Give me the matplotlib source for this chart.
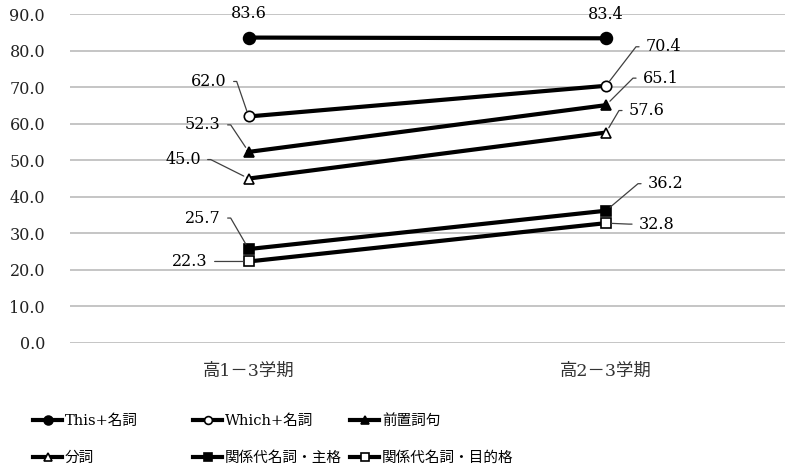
import matplotlib.pyplot as plt

plt.rcParams['font.family'] = ['DejaVu Serif', 'Noto Sans CJK JP']

terms = ["高1－3学期", "高2－3学期"]
names = ["This+名詞", "Which+名詞", "前置詞句", "分詞", "関係代名詞・主格", "関係代名詞・目的格"]
this_noun = [83.6, 83.4]
which_noun = [62.0, 70.4]
prep_phrase = [52.3, 65.1]
participle = [45.0, 57.6]
rel_subj = [25.7, 36.2]
rel_obj = [22.3, 32.8]
series = [this_noun, which_noun, prep_phrase, participle, rel_subj, rel_obj]

# marker, face colour
styles = [("o", "black"), ("o", "white"), ("^", "black"),
          ("^", "white"), ("s", "black"), ("s", "white")]

# label offsets in pixels for (first point, second point); None = centred above
offsets = [
    [None, None],
    [(-22, 35), (40, 39)],
    [(-28, 27), (37, 27)],
    [(-48, 19), (23, 22)],
    [(-28, 31), (42, 27)],
    [(-41, 0), (33, -1)],
]

fig = plt.figure(figsize=(7.87, 4.73), dpi=100)
ax = fig.add_axes([0.089, 0.275, 0.908, 0.695])

x = list(range(len(terms)))
handles = []
for vals, (mk, fc), name in zip(series, styles, names):
    ms = 8.5 if (mk == "o" and fc == "black") else 7.5
    ln, = ax.plot(x, vals, color="black", lw=3, marker=mk, ms=ms,
                  mfc=fc, mec="black", mew=1.2, zorder=3, label=name)
    handles.append(ln)

for vals, offs in zip(series, offsets):
    for xi, v, off in zip(x, vals, offs):
        if off is None:
            ax.annotate(f"{v:.1f}", (xi, v), xytext=(0, 24), textcoords="offset pixels",
                        ha="center", va="center", fontsize=11.5, annotation_clip=False)
            continue
        left = off[0] < 0
        ax.annotate(f"{v:.1f}", (xi, v), xytext=off, textcoords="offset pixels",
                    ha="right" if left else "left", va="center", fontsize=11.5,
                    annotation_clip=False,
                    arrowprops=dict(arrowstyle="-", color="#404040", lw=0.9,
                                    patchA=None, shrinkA=5, shrinkB=4,
                                    relpos=(1, 0.5) if left else (0, 0.5),
                                    connectionstyle="arc,angleA=%d,armA=10,angleB=0,armB=0,rad=0"
                                    % (0 if left else 180)))

ax.set_xlim(-0.5, 1.5)
ax.set_ylim(0, 90)
ax.set_yticks([i * 10 for i in range(10)])
ax.set_yticklabels([f"{i * 10:.1f}" for i in range(10)], fontsize=11.5, color="#222222")
ax.set_xticks(x)
ax.set_xticklabels(terms, fontsize=12.5, color="#333333")
ax.tick_params(axis="both", length=0)
ax.tick_params(axis="y", pad=18)
ax.tick_params(axis="x", pad=14)
ax.yaxis.grid(True, color="#c0c0c0", lw=1.3)
ax.set_axisbelow(True)
for s in ax.spines.values():
    s.set_visible(False)

col_x = [33, 193, 350]
for c in range(3):
    fig.legend([handles[c], handles[c + 3]], [names[c], names[c + 3]],
               loc="upper left", bbox_to_anchor=(col_x[c] / 787, 1 - 414 / 473),
               frameon=False, fontsize=10.5, handlelength=2.0, handletextpad=0.2,
               labelspacing=1.55, borderpad=0, borderaxespad=0, markerscale=0.75)

fig.savefig("out.png", dpi=100)
